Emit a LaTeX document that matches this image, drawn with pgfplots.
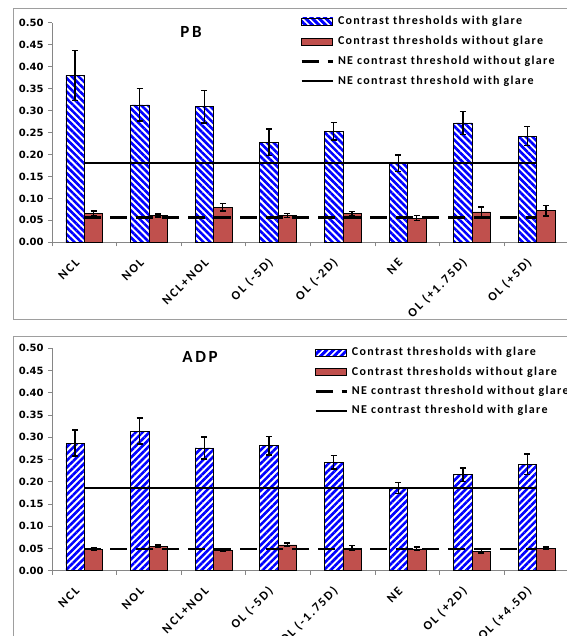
\documentclass[border=0pt]{standalone}
\usepackage{pgfplots}
\pgfplotsset{compat=1.18}
\usepackage{pgfplotstable}
\usetikzlibrary{patterns.meta}
\usepackage{fontspec}
\setmainfont{Carlito}
\newfontfamily\lsfont[LetterSpace=10.9]{Carlito}
\newfontfamily\labfont[LetterSpace=15]{Carlito}
\newfontfamily\ttlfont[LetterSpace=16]{Carlito}
\newfontfamily\tickfont{DejaVu Sans}

\pgfplotstableread{
x g ge n ne
0 0.380 0.057 0.066 0.005
1 0.313 0.037 0.061 0.003
2 0.309 0.037 0.080 0.009
3 0.228 0.030 0.061 0.004
4 0.253 0.020 0.065 0.005
5 0.180 0.019 0.055 0.006
6 0.272 0.026 0.069 0.011
7 0.242 0.022 0.072 0.012
}\pb
\pgfplotstableread{
x g ge n ne
0 0.287 0.029 0.048 0.003
1 0.314 0.029 0.055 0.003
2 0.276 0.025 0.046 0.003
3 0.281 0.021 0.058 0.004
4 0.244 0.015 0.051 0.005
5 0.186 0.012 0.049 0.004
6 0.216 0.015 0.044 0.004
7 0.239 0.023 0.051 0.002
}\adp

\definecolor{barred}{RGB}{192,80,77}
\definecolor{axgray}{RGB}{134,134,134}

\pgfplotsset{
  panel/.style={
    scale only axis, width=517pt,
    xmin=-0.5, xmax=7.5, ymin=0, ymax=0.5,
    axis x line*=bottom, axis y line*=left,
    axis line style={axgray, line width=0.8pt},
    tick align=outside,
    ytick={0,0.05,0.10,0.15,0.20,0.25,0.30,0.35,0.40,0.45,0.50},
    major tick length=4pt, minor tick length=4pt,
    every tick/.style={axgray, line width=0.8pt},
    xtick={0,...,7},
    major x tick style={draw=none},
    minor xtick={-0.5,0.5,1.5,2.5,3.5,4.5,5.5,6.5,7.5},
    yticklabel style={font=\tickfont\bfseries\fontsize{10}{12}\selectfont, /pgf/number format/assume math mode=true,
      /pgf/number format/fixed, /pgf/number format/fixed zerofill, /pgf/number format/precision=2, xshift=-1pt},
    xticklabel style={font=\labfont\bfseries\fontsize{12.5}{15}\selectfont, rotate=45, anchor=east, inner sep=0pt, xshift=-15pt, yshift=-5.2pt},
    legend cell align=left,
    clip=false,
  },
  gbar/.style={ybar, bar width=0.285, bar shift=0pt, fill=white, draw=black, line width=0.6pt,
    postaction={pattern={Lines[angle=#1,distance=4.8pt,line width=2.6pt]}, pattern color=blue},
    /pgfplots/error bars/.cd, y dir=both, y explicit,
      error bar style={line width=1.4pt, black},
      error mark options={rotate=90, mark size=3pt, line width=1.4pt, black},
    /pgfplots/.cd},
  nbar/.style={ybar, bar width=0.285, bar shift=0pt, fill=barred, draw=black, line width=0.6pt,
    /pgfplots/error bars/.cd, y dir=both, y explicit,
      error bar style={line width=1.4pt, black},
      error mark options={rotate=90, mark size=3pt, line width=1.4pt, black},
    /pgfplots/.cd},
}

\begin{document}
\begin{tikzpicture}[x=1pt,y=1pt]
\useasboundingbox (0,0) rectangle (566,636);
\draw[axgray!80, line width=1pt] (13,316) rectangle (640,627);
\draw[axgray!80, line width=1pt] (13,299) rectangle (640,-20);

\begin{axis}[panel, at={(52pt,393.7pt)}, anchor=south west, height=219.6pt,
  xticklabels={NCL, NOL, NCL+NOL, {OL (-5D)}, {OL (-2D)}, NE, {OL (+1.75D)}, {OL (+5D)}},
  legend style={at={(0.4797,1.034)}, anchor=north west, draw=none, fill=none, inner sep=0pt,
    font=\lsfont\bfseries\fontsize{12}{14}\selectfont, row sep=8pt, column sep=3pt,
    nodes={inner sep=1pt, text height=8pt, text depth=2pt}},
]
\addplot[gbar=-45, /pgfplots/legend image code/.code={\draw[black, line width=0.6pt, fill=white, postaction={pattern={Lines[angle=-45,distance=4.8pt,line width=2.6pt]}, pattern color=blue}] (0pt,-3.5pt) rectangle (31pt,3.5pt);}]
  table[x expr=\thisrow{x}-0.1425, y=g, y error=ge]{\pb};
\addlegendentry{Contrast thresholds with glare}
\addplot[nbar, /pgfplots/legend image code/.code={\draw[black, line width=0.6pt, fill=barred] (0pt,-3.5pt) rectangle (31pt,3.5pt);}]
  table[x expr=\thisrow{x}+0.1425, y=n, y error=ne]{\pb};
\addlegendentry{Contrast thresholds without glare}
\addplot[black, line width=2.8pt, dash pattern=on 17pt off 9pt,
  legend image code/.code={\draw[black, line width=2.8pt, dash pattern=on 17pt off 9pt] (0pt,0pt) -- (31pt,0pt);}]
  coordinates {(0,0.056) (7,0.056)};
\addlegendentry{NE contrast threshold without glare}
\addplot[black, line width=1.9pt,
  legend image code/.code={\draw[black, line width=1.9pt] (0pt,0pt) -- (31pt,0pt);}]
  coordinates {(0,0.180) (7,0.180)};
\addlegendentry{NE contrast threshold with glare}
\end{axis}
\node[font=\ttlfont\bfseries\fontsize{17}{20}\selectfont] at (191,604.3) {PB};

\begin{axis}[panel, at={(52pt,65.3pt)}, anchor=south west, height=222.4pt,
  xticklabels={NCL, NOL, NCL+NOL, {OL (-5D)}, {OL (-1.75D)}, NE, {OL (+2D)}, {OL (+4.5D)}},
  legend style={at={(0.5067,1.007)}, anchor=north west, draw=none, fill=none, inner sep=0pt,
    font=\lsfont\bfseries\fontsize{12}{14}\selectfont, row sep=7.3pt, column sep=3pt,
    nodes={inner sep=1pt, text height=8pt, text depth=2pt}},
]
\addplot[gbar=45, /pgfplots/legend image code/.code={\draw[black, line width=0.6pt, fill=white, postaction={pattern={Lines[angle=45,distance=4.8pt,line width=2.6pt]}, pattern color=blue}] (0pt,-3.5pt) rectangle (31pt,3.5pt);}]
  table[x expr=\thisrow{x}-0.1425, y=g, y error=ge]{\adp};
\addlegendentry{Contrast thresholds with glare}
\addplot[nbar, /pgfplots/legend image code/.code={\draw[black, line width=0.6pt, fill=barred] (0pt,-3.5pt) rectangle (31pt,3.5pt);}]
  table[x expr=\thisrow{x}+0.1425, y=n, y error=ne]{\adp};
\addlegendentry{Contrast thresholds without glare}
\addplot[black, line width=2.8pt, dash pattern=on 17pt off 9pt,
  legend image code/.code={\draw[black, line width=2.8pt, dash pattern=on 17pt off 9pt] (0pt,0pt) -- (31pt,0pt);}]
  coordinates {(0,0.049) (7,0.049)};
\addlegendentry{NE contrast threshold without glare}
\addplot[black, line width=1.9pt,
  legend image code/.code={\draw[black, line width=1.9pt] (0pt,0pt) -- (31pt,0pt);}]
  coordinates {(0,0.186) (7,0.186)};
\addlegendentry{NE contrast threshold with glare}
\end{axis}
\node[font=\ttlfont\bfseries\fontsize{17}{20}\selectfont] at (200,279) {ADP};
\end{tikzpicture}
\end{document}
